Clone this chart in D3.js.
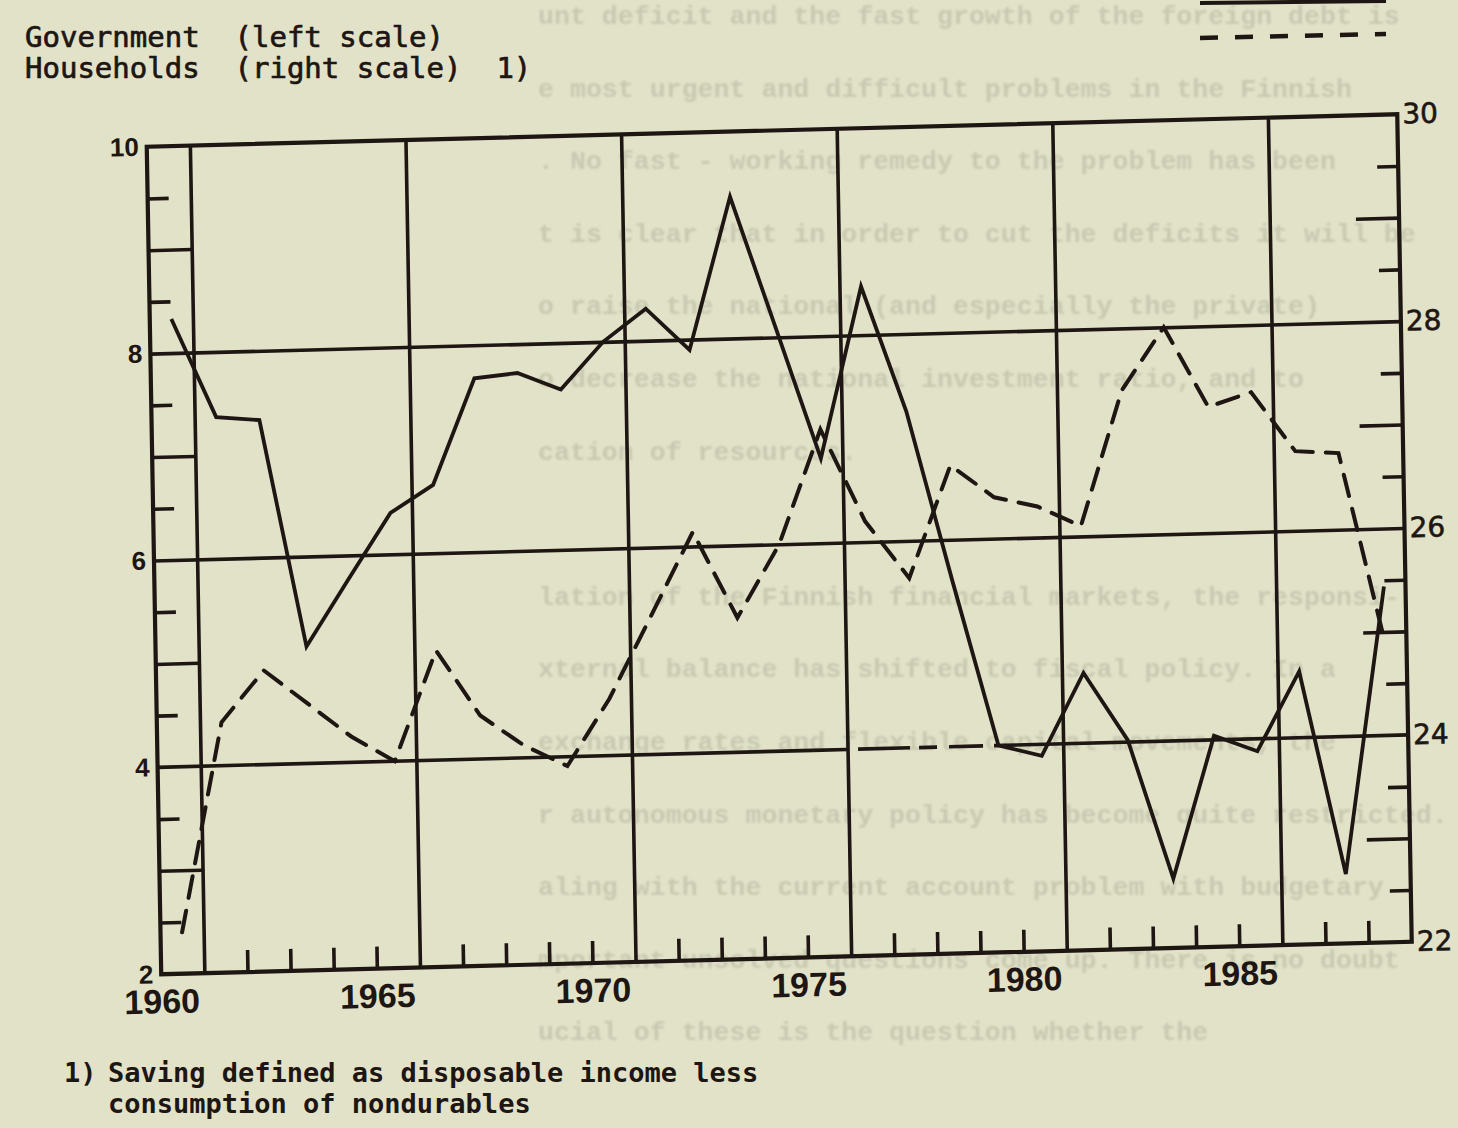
<!DOCTYPE html>
<html>
<head>
<meta charset="utf-8">
<script src="https://cdn.jsdelivr.net/npm/d3@7"></script>
<style>
  html, body { margin: 0; padding: 0; background: #e2e2c9; }
  svg { display: block; }
</style>
</head>
<body>
<svg id="chart" width="1458" height="1128"></svg>
<script>
// Saving ratios, 1960-1988 (per cent)
const years = d3.range(1960, 1989);
const government = [8.33, 7.37, 7.33, 5.13, 5.77, 6.40, 6.66, 7.68, 7.72, 7.55,
                    8.00, 8.31, 7.90, 9.37, 8.10, 6.82, 8.47, 7.25, 5.60, 4.00,
                    3.89, 4.68, 4.02, 2.67, 4.04, 3.88, 4.64, 2.67, 5.44];
const households = [22.40, 24.42, 24.91, 24.58, 24.25, 24.00, 25.06, 24.42, 24.12, 23.91,
                    24.55, 25.34, 26.14, 25.30, 26.00, 27.10, 26.20, 25.64, 26.72, 26.40,
                    26.30, 26.10, 27.40, 28.00, 27.22, 27.35, 26.77, 26.74, 24.90];
const yearLabels = [1960, 1965, 1970, 1975, 1980, 1985];
const gridYears = [1961, 1966, 1971, 1976, 1981, 1986];
const leftTicks = [2, 4, 6, 8, 10];
const rightTicks = [22, 24, 26, 28, 30];
const legendLines = ["Government  (left scale)", "Households  (right scale)  1)"];
const footnoteMark = "1)";
const footnoteLines = ["Saving defined as disposable income less", "consumption of nondurables"];

// typed text of the following sheet, faintly visible through the paper
const showThrough = [
  "unt deficit and the fast growth of the foreign debt is",
  "e most urgent and difficult problems in the Finnish",
  ". No fast - working remedy to the problem has been",
  "t is clear that in order to cut the deficits it will be",
  "o raise the national (and especially the private)",
  "o decrease the national investment ratio, and to",
  "cation of resources.",
  "",
  "lation of the Finnish financial markets, the responsi-",
  "xternal balance has shifted to fiscal policy. In a",
  "exchange rates and flexible capital movements, the",
  "r autonomous monetary policy has become quite restricted.",
  "aling with the current account problem with budgetary",
  "mportant unsolved questions come up. There is no doubt",
  "ucial of these is the question whether the"
];

const ink = "#1d1612";
const W = 1250.5, H = 827.5;

const svg = d3.select("#chart");

// show-through layer
const defs = svg.append("defs");
defs.append("filter").attr("id", "soft")
  .append("feGaussianBlur").attr("stdDeviation", 1.0);
svg.append("g")
  .attr("filter", "url(#soft)")
  .attr("font-family", "'Liberation Mono', 'Courier New', monospace")
  .attr("font-weight", "bold")
  .attr("font-size", 26.6)
  .attr("fill", "#c8c9b0")
  .selectAll("text").data(showThrough).join("text")
  .attr("x", 538)
  .attr("y", (d, i) => 24 + i * 72.6)
  .text(d => d);

const x = d3.scaleLinear().domain([1960, 1989]).range([0, W]);
const yL = d3.scaleLinear().domain([2, 10]).range([H, 0]);
const yR = d3.scaleLinear().domain([22, 30]).range([H, 0]);

// the plot sits slightly askew on the sheet
const g = svg.append("g")
  .attr("transform", "matrix(1,-0.026,0.0175,1,146.75,146.75)");

// vertical grid lines every five years
g.append("g")
  .attr("transform", `translate(0,${H})`)
  .call(d3.axisBottom(x).tickValues(gridYears).tickSize(-H).tickFormat(""))
  .call(a => a.select(".domain").remove());

// horizontal grid lines at 6, 8 (26, 28)
g.append("g")
  .call(d3.axisLeft(yL).tickValues([6, 8]).tickSize(-W).tickFormat(""))
  .call(a => a.select(".domain").remove());

// the 4 (24) line is worn through between 1975 and 1979
const gl4 = [[1960, 1975.2, null], [1975.2, 1979.6, "34 11 52 9 18 12"], [1979.6, 1989, null]];
g.append("g").selectAll("line").data(gl4).join("line")
  .attr("x1", d => x(d[0])).attr("x2", d => x(d[1]))
  .attr("y1", yL(4)).attr("y2", yL(4))
  .attr("stroke-dasharray", d => d[2]);

// minor ticks: half units short, odd units reach the first grid line
const halfL = d3.range(2.5, 10, 1);
const oddL = [3, 5, 7, 9];
const longLen = x(1961) - x(1960);
g.append("g")
  .call(d3.axisLeft(yL).tickValues(halfL).tickSize(-21).tickFormat(""))
  .call(a => a.select(".domain").remove());
g.append("g")
  .call(d3.axisLeft(yL).tickValues(oddL).tickSize(-longLen).tickFormat(""))
  .call(a => a.select(".domain").remove());

const halfR = d3.range(22.5, 30, 1);
const oddR = [23, 25, 27, 29];
g.append("g")
  .attr("transform", `translate(${W},0)`)
  .call(d3.axisRight(yR).tickValues(halfR).tickSize(-21).tickFormat(""))
  .call(a => a.select(".domain").remove());
g.append("g")
  .attr("transform", `translate(${W},0)`)
  .call(d3.axisRight(yR).tickValues(oddR).tickSize(-longLen).tickFormat(""))
  .call(a => a.select(".domain").remove());

// yearly ticks along the bottom
const minorYears = years.filter(y => y > 1960 && !gridYears.includes(y));
g.append("g")
  .attr("transform", `translate(0,${H})`)
  .call(d3.axisBottom(x).tickValues(minorYears).tickSize(-22).tickFormat(""))
  .call(a => a.select(".domain").remove());

// frame
g.append("rect")
  .attr("x", 0).attr("y", 0).attr("width", W).attr("height", H)
  .attr("fill", "none").attr("stroke", ink).attr("stroke-width", 4.2);

g.selectAll("line").attr("stroke", ink).attr("stroke-width", 3.6);

// axis labels
g.append("g")
  .attr("transform", `translate(0,${H})`)
  .call(d3.axisBottom(x).tickValues(yearLabels).tickSize(0).tickPadding(15).tickFormat(d3.format("d")))
  .call(a => a.select(".domain").remove())
  .call(a => a.selectAll("text")
    .attr("fill", ink)
    .attr("font-family", "'Liberation Sans', Arial, sans-serif")
    .attr("font-weight", "bold")
    .attr("font-size", 34));

g.append("g")
  .call(d3.axisLeft(yL).tickValues(leftTicks).tickSize(0).tickPadding(8).tickFormat(d3.format("d")))
  .call(a => a.select(".domain").remove())
  .call(a => a.selectAll("text")
    .attr("fill", ink)
    .attr("font-family", "'Liberation Sans', Arial, sans-serif")
    .attr("font-weight", "bold")
    .attr("font-size", 26));

g.append("g")
  .attr("transform", `translate(${W},0)`)
  .call(d3.axisRight(yR).tickValues(rightTicks).tickSize(0).tickPadding(5).tickFormat(d3.format("d")))
  .call(a => a.select(".domain").remove())
  .call(a => a.selectAll("text")
    .attr("fill", ink)
    .attr("stroke", ink).attr("stroke-width", 0.6)
    .attr("font-family", "'DejaVu Sans', sans-serif")
    .attr("font-size", 28));

// series, plotted at mid-year
const lineL = d3.line().x((d, i) => x(years[i] + 0.5)).y(d => yL(d));
const lineR = d3.line().x((d, i) => x(years[i] + 0.5)).y(d => yR(d));

g.append("path")
  .datum(government)
  .attr("d", lineL)
  .attr("fill", "none").attr("stroke", ink).attr("stroke-width", 3.8)
  .attr("stroke-linejoin", "miter");

g.append("path")
  .datum(households)
  .attr("d", lineR)
  .attr("fill", "none").attr("stroke", ink).attr("stroke-width", 4)
  .attr("stroke-dasharray", "22 13")
  .attr("stroke-linecap", "round");

// legend
const legend = svg.append("g")
  .attr("font-family", "'DejaVu Sans Mono', monospace")
  .attr("font-size", 29)
  .attr("fill", ink)
  .attr("stroke", ink).attr("stroke-width", 0.7);
legend.selectAll("text").data(legendLines).join("text")
  .attr("x", 25).attr("y", (d, i) => 47 + i * 31)
  .attr("xml:space", "preserve")
  .style("white-space", "pre")
  .text(d => d);

svg.append("line")
  .attr("x1", 1200).attr("y1", 3).attr("x2", 1386).attr("y2", 1)
  .attr("stroke", ink).attr("stroke-width", 4);
svg.append("line")
  .attr("x1", 1200).attr("y1", 38).attr("x2", 1386).attr("y2", 34)
  .attr("stroke", ink).attr("stroke-width", 4.5)
  .attr("stroke-dasharray", "18 17");

// footnote
const foot = svg.append("g")
  .attr("font-family", "'DejaVu Sans Mono', monospace")
  .attr("font-weight", "bold")
  .attr("font-size", 27)
  .attr("fill", ink);
foot.append("text").attr("x", 64).attr("y", 1082).text(footnoteMark);
foot.selectAll("text.fl").data(footnoteLines).join("text")
  .attr("class", "fl")
  .attr("x", 108).attr("y", (d, i) => 1082 + i * 31)
  .text(d => d);
</script>
</body>
</html>
